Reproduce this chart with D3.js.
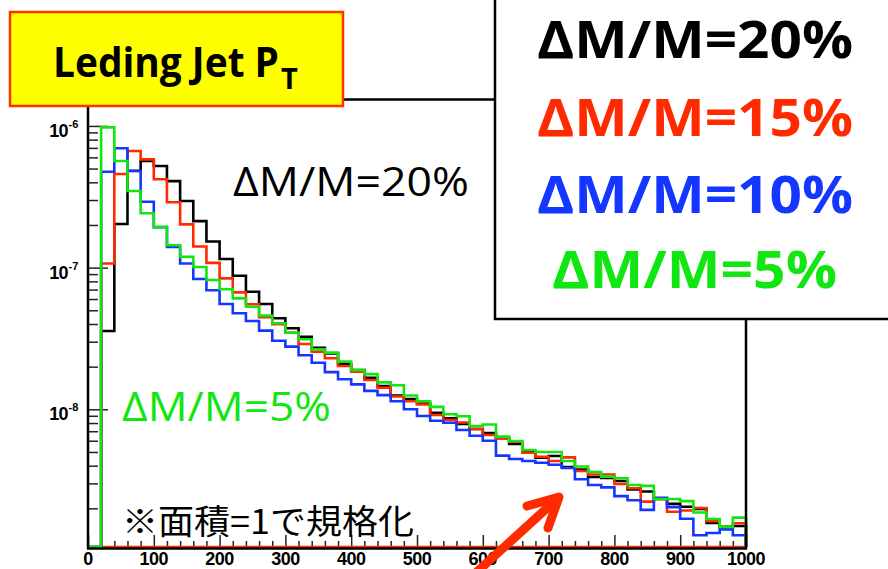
<!DOCTYPE html>
<html><head><meta charset="utf-8">
<script src="https://cdn.jsdelivr.net/npm/d3@7"></script>
<style>body{margin:0;background:#fff;overflow:hidden}svg{display:block}</style>
</head><body><svg id="c" width="888" height="569"></svg>
<script>
// ---------- data ----------
const binLow = [0,20,40,60,80,100,120,140,160,180,200,220,240,260,280,300,320,340,360,380,400,420,440,460,480,500,520,540,560,580,600,620,640,660,680,700,720,740,760,780,800,820,840,860,880,900,920,940,960,980];
const binHigh = 1000;
const seriesNames = ["ΔM/M=20%","ΔM/M=15%","ΔM/M=10%","ΔM/M=5%"];
const dm20 = [0,3.57e-8,2.03e-7,4.81e-7,5.65e-7,5.21e-7,4.08e-7,2.95e-7,2.13e-7,1.53e-7,1.15e-7,8.77e-8,6.76e-8,5.53e-8,4.39e-8,3.73e-8,3.25e-8,2.72e-8,2.48e-8,2.08e-8,1.89e-8,1.67e-8,1.46e-8,1.25e-8,1.18e-8,1.10e-8,9.46e-9,8.64e-9,7.88e-9,7.26e-9,6.80e-9,6.24e-9,5.69e-9,5.00e-9,4.55e-9,4.68e-9,3.92e-9,3.76e-9,3.33e-9,3.28e-9,3.12e-9,2.72e-9,2.63e-9,2.34e-9,2.15e-9,2.05e-9,1.98e-9,1.58e-9,1.48e-9,1.50e-9];
const dm15 = [0,1.07e-7,4.58e-7,6.65e-7,5.81e-7,4.20e-7,2.89e-7,2.02e-7,1.41e-7,1.08e-7,8.40e-8,6.69e-8,5.51e-8,4.46e-8,3.98e-8,3.47e-8,2.89e-8,2.55e-8,2.29e-8,2.02e-8,1.84e-8,1.61e-8,1.42e-8,1.23e-8,1.14e-8,1.08e-8,9.12e-9,8.40e-9,8.07e-9,7.26e-9,6.59e-9,6.24e-9,5.91e-9,4.94e-9,4.63e-9,4.32e-9,4.58e-9,3.67e-9,3.47e-9,3.47e-9,2.97e-9,2.77e-9,2.23e-9,2.32e-9,1.89e-9,1.93e-9,2.01e-9,1.62e-9,1.48e-9,1.57e-9];
const dm10 = [0,4.75e-7,6.95e-7,4.83e-7,2.92e-7,1.93e-7,1.40e-7,1.07e-7,8.31e-8,6.92e-8,5.53e-8,4.76e-8,4.20e-8,3.59e-8,3.05e-8,2.77e-8,2.41e-8,2.13e-8,1.83e-8,1.63e-8,1.50e-8,1.35e-8,1.26e-8,1.14e-8,1.00e-8,8.97e-9,8.31e-9,8.04e-9,7.14e-9,6.51e-9,6.00e-9,4.71e-9,4.46e-9,4.32e-9,4.20e-9,4.06e-9,3.85e-9,3.21e-9,2.92e-9,2.81e-9,2.44e-9,2.28e-9,1.95e-9,2.37e-9,2.04e-9,1.69e-9,1.29e-9,1.34e-9,1.42e-9,1.29e-9];
const dm5 = [0,9.77e-7,5.65e-7,3.47e-7,2.42e-7,1.93e-7,1.44e-7,1.19e-7,1.01e-7,8.18e-8,7.03e-8,6.07e-8,5.30e-8,4.58e-8,4.05e-8,3.47e-8,3.12e-8,2.65e-8,2.51e-8,2.17e-8,1.89e-8,1.77e-8,1.55e-8,1.48e-8,1.25e-8,1.14e-8,1.04e-8,9.22e-9,8.93e-9,7.62e-9,7.81e-9,6.41e-9,5.98e-9,5.16e-9,5.00e-9,5.00e-9,4.32e-9,3.95e-9,3.61e-9,3.35e-9,3.26e-9,2.92e-9,2.88e-9,2.33e-9,2.33e-9,2.25e-9,1.87e-9,1.68e-9,1.48e-9,1.72e-9];
const xMajorTicks = [0,100,200,300,400,500,600,700,800,900,1000];
const xTickLabels = ["0","100","200","300","400","500","600","700","800","900","1000"];
const yMajorTicks = [1e-6,1e-7,1e-8];
const yTickExps = ["-6","-7","-8"];
const colors = ["#000000","#ff2a00","#1436ff","#12e612"];
const titleText = "Leding Jet P";
const titleSub = "T";
const noteText = "※面積=1で規格化";

// ---------- scales ----------
const svg = d3.select("#c");
const x = d3.scaleLinear().domain([0,1000]).range([88,746]);
const y = d3.scaleLog().domain([1.067e-9,1.524e-6]).range([547,100]).clamp(true);
const yv = v => v > 0 ? y(v) : y.range()[0];

// ---------- frame ----------
const fr = svg.append("g").attr("stroke","#000").attr("stroke-width",2.5).attr("fill","none");

// ---------- ticks via axes ----------
const xMinor = d3.range(0,1001,20).filter(v => v % 100 !== 0);
const gxMin = svg.append("g").attr("transform",`translate(0,${y.range()[0]})`)
  .call(d3.axisBottom(x).tickValues(xMinor).tickSize(-6).tickFormat(""));
const gxMaj = svg.append("g").attr("transform",`translate(0,${y.range()[0]})`)
  .call(d3.axisBottom(x).tickValues(xMajorTicks).tickSize(-12).tickFormat(""));
const yMinor = y.ticks(50).filter(v => yMajorTicks.indexOf(v) < 0 && Math.abs(Math.log10(v) - Math.round(Math.log10(v))) > 1e-6);
const gyMin = svg.append("g").attr("transform",`translate(${x.range()[0]},0)`)
  .call(d3.axisLeft(y).tickValues(yMinor).tickSize(-10).tickFormat(""));
const gyMaj = svg.append("g").attr("transform",`translate(${x.range()[0]},0)`)
  .call(d3.axisLeft(y).tickValues(yMajorTicks).tickSize(-20).tickFormat(""));
[gxMin,gxMaj,gyMin,gyMaj].forEach(g => { g.select(".domain").remove(); g.selectAll("line").attr("stroke","#222").attr("stroke-width",1.5); });

// ---------- histograms ----------
const stepLine = d3.line().x(d => x(d[0])).y(d => yv(d[1])).curve(d3.curveStepAfter);
const allSeries = [dm20, dm15, dm10, dm5];
allSeries.forEach((vals, i) => {
  const pts = binLow.map((b, k) => [b, vals[k]]);
  pts.push([binHigh, vals[vals.length-1]]);
  pts.push([binHigh, 0]);
  if (i === 1) pts.push([0, 0]);
  svg.append("path").attr("d", stepLine(pts) + (i === 1 ? "Z" : ""))
    .attr("fill","none").attr("stroke",colors[i]).attr("stroke-width",2.6)
    .attr("stroke-linejoin","miter");
});

// frame lines drawn on top
const X0 = x.range()[0], X1 = x.range()[1], Y0 = y.range()[0], Y1 = y.range()[1];
fr.raise();
fr.append("line").attr("x1",X0).attr("x2",X0).attr("y1",Y1-1).attr("y2",Y0+1.5);
fr.append("line").attr("x1",X0-1).attr("x2",X1+1).attr("y1",Y0+1.5).attr("y2",Y0+1.5);
fr.append("line").attr("x1",X1).attr("x2",X1).attr("y1",Y1).attr("y2",Y0+1.5);
fr.append("line").attr("x1",X0).attr("x2",X1).attr("y1",Y1-0.5).attr("y2",Y1-0.5);

// ---------- tick labels ----------
svg.append("g").selectAll("text").data(xMajorTicks).join("text")
  .attr("x", d => x(d)).attr("y", 565).attr("text-anchor","middle")
  .attr("font-family","'Liberation Sans', Arial, sans-serif").attr("font-weight","bold")
  .attr("font-size",18).attr("letter-spacing",-0.5).text((d,i) => xTickLabels[i]);
const yl = svg.append("g").attr("font-family","'Liberation Sans', Arial, sans-serif").attr("font-weight","bold");
yMajorTicks.forEach((v,i) => {
  yl.append("text").attr("x",68).attr("y",y(v)+11).attr("text-anchor","end")
    .attr("font-size",18).attr("letter-spacing",-0.6).text("10");
  yl.append("text").attr("x",68.5).attr("y",y(v)+2).attr("font-size",11).text(yTickExps[i]);
});

// ---------- in-plot annotations ----------
svg.append("text").attr("x",233).attr("y",196).attr("font-family","'Open Sans', sans-serif")
  .attr("font-size",41).attr("fill",colors[0]).attr("textLength",236).attr("lengthAdjust","spacingAndGlyphs").text(seriesNames[0]);
svg.append("text").attr("x",122).attr("y",421).attr("font-family","'Open Sans', sans-serif")
  .attr("font-size",41).attr("fill",colors[3]).attr("textLength",209).attr("lengthAdjust","spacingAndGlyphs").text(seriesNames[3]);
svg.append("text").attr("x",122).attr("y",534).attr("font-family","'Noto Sans CJK JP', sans-serif")
  .attr("font-size",34).attr("fill","#000").attr("textLength",292).attr("lengthAdjust","spacingAndGlyphs").text(noteText);

// arrow
const arrowCol = "#ff2a00";
svg.append("path").attr("d","M468,580 L557,499").attr("stroke",arrowCol).attr("stroke-width",9).attr("stroke-linecap","round").attr("fill","none");
svg.append("path").attr("d","M527,506 L559,497 L548,528").attr("stroke",arrowCol).attr("stroke-width",9)
  .attr("stroke-linecap","round").attr("stroke-linejoin","round").attr("fill","none");

// ---------- legend box ----------
svg.append("rect").attr("x",495).attr("y",-5).attr("width",400).attr("height",324)
  .attr("fill","#fff").attr("stroke","#000").attr("stroke-width",2.5);
const legX = [537,537,537,552];
const legW = [316,316,316,285];
const legY = [58,136,213,288];
seriesNames.forEach((s,i) => {
  svg.append("text").attr("x",legX[i]).attr("y",legY[i]).attr("font-family","'Open Sans', sans-serif")
    .attr("font-weight","bold").attr("font-size",52).attr("fill",colors[i])
    .attr("textLength",legW[i]).attr("lengthAdjust","spacingAndGlyphs").text(s);
});

// ---------- title box ----------
svg.append("rect").attr("x",10).attr("y",12).attr("width",333).attr("height",94)
  .attr("fill","#ffff00").attr("stroke","#ff3300").attr("stroke-width",2.5);
const tt = svg.append("text").attr("x",53).attr("y",77).attr("font-family","'Open Sans', sans-serif")
  .attr("font-weight","bold").attr("fill","#000");
tt.append("tspan").attr("font-size",41).attr("textLength",226).attr("lengthAdjust","spacingAndGlyphs").text(titleText);
tt.append("tspan").attr("x",281).attr("y",89).attr("font-size",29).text(titleSub);
</script>
</body></html>
